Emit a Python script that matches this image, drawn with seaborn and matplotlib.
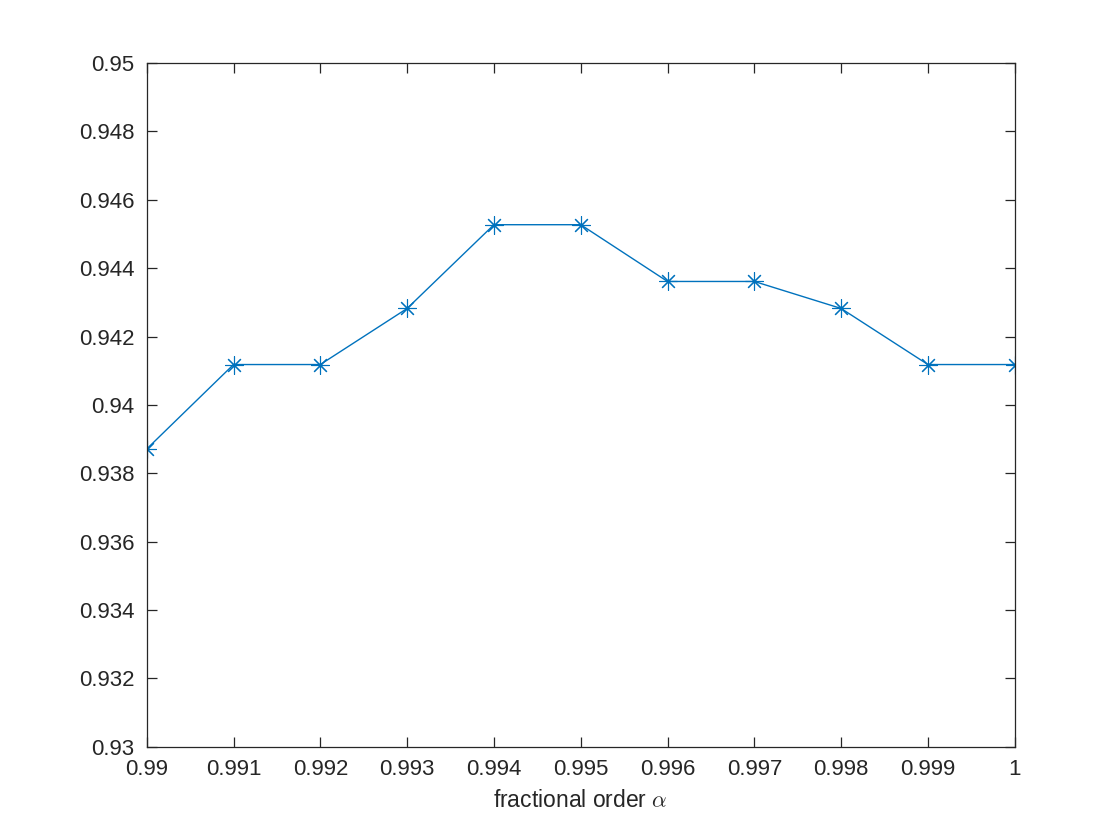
import matplotlib
matplotlib.use("Agg")
import matplotlib.pyplot as plt
import seaborn as sns
import pandas as pd
from matplotlib.ticker import FormatStrFormatter

# data
alpha = [0.990, 0.991, 0.992, 0.993, 0.994, 0.995, 0.996, 0.997, 0.998, 0.999, 1.000]
score = [0.93871, 0.94118, 0.94118, 0.94282, 0.94527, 0.94527,
         0.94361, 0.94361, 0.94282, 0.94118, 0.94118]
x_ticks = [0.99, 0.991, 0.992, 0.993, 0.994, 0.995, 0.996, 0.997, 0.998, 0.999, 1]
x_labels = ["0.99", "0.991", "0.992", "0.993", "0.994", "0.995", "0.996", "0.997", "0.998", "0.999", "1"]
y_ticks = [0.93, 0.932, 0.934, 0.936, 0.938, 0.94, 0.942, 0.944, 0.946, 0.948, 0.95]

sns.set_style("ticks")
plt.rcParams["font.family"] = ["Liberation Sans", "DejaVu Sans"]
plt.rcParams["mathtext.fontset"] = "cm"

df = pd.DataFrame({"alpha": alpha, "score": score})

fig = plt.figure(figsize=(11.2, 8.4), dpi=100)
ax = fig.add_axes([0.131, 0.111, 0.775, 0.814])

sns.lineplot(data=df, x="alpha", y="score", ax=ax, color="#0072BD",
             linewidth=1.0, marker=(8, 2, 0), markersize=13,
             markeredgecolor="#0072BD", markeredgewidth=0.8)

ax.set_xlim(0.99, 1.0)
ax.set_ylim(0.93, 0.95)
ax.set_xticks(x_ticks)
ax.set_xticklabels(x_labels)
ax.set_yticks(y_ticks)
ax.yaxis.set_major_formatter(FormatStrFormatter("%g"))
ax.set_xlabel(r"fractional order $\alpha$", fontsize=16.5, color="#262626", labelpad=6)
ax.set_ylabel("")

for s in ax.spines.values():
    s.set_visible(True)
    s.set_color("#262626")
    s.set_linewidth(0.9)
ax.tick_params(direction="in", top=True, right=True, length=7, width=0.9,
               labelsize=16, colors="#262626", pad=9)

fig.savefig("out.png", dpi=100)
